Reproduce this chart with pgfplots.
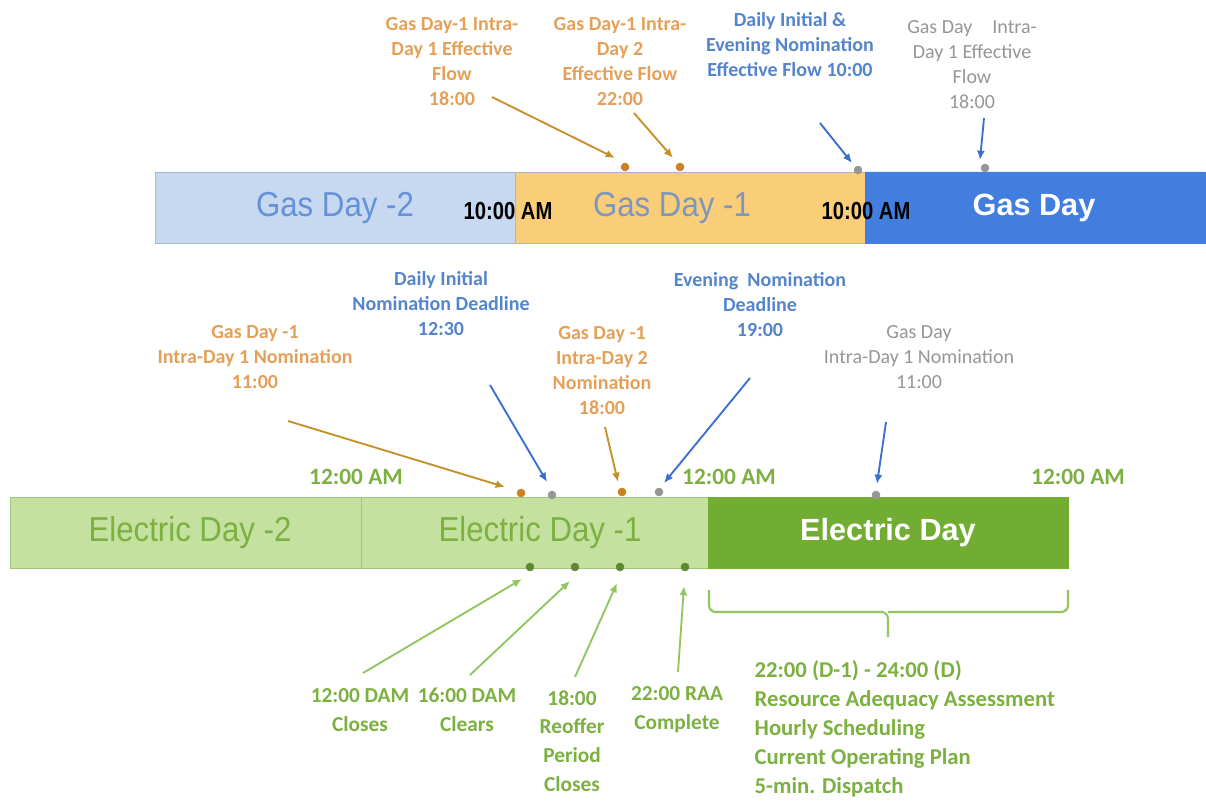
\documentclass[border=0pt]{standalone}
\usepackage{pgfplots}
\pgfplotsset{compat=1.18}
\usepackage{fontspec}
\setmainfont{Carlito}
\newfontfamily\arial{Liberation Sans}
\usetikzlibrary{arrows.meta}
\definecolor{lblue}{RGB}{198,217,241}
\definecolor{lblueb}{RGB}{170,182,200}
\definecolor{gorange}{RGB}{250,205,120}
\definecolor{gblue}{RGB}{66,126,222}
\definecolor{lgreen}{RGB}{197,225,160}
\definecolor{lgreenb}{RGB}{160,200,120}
\definecolor{dgreen}{RGB}{112,173,50}
\definecolor{torange}{RGB}{228,160,88}
\definecolor{tblue}{RGB}{84,132,204}
\definecolor{tgray}{RGB}{150,150,150}
\definecolor{tgreen}{RGB}{124,176,64}
\definecolor{aorange}{RGB}{196,145,40}
\definecolor{ablue}{RGB}{60,110,210}
\definecolor{agreen}{RGB}{145,198,95}
\definecolor{dorange}{RGB}{205,130,30}
\definecolor{dgray}{RGB}{150,150,150}
\definecolor{dgreendot}{RGB}{95,135,55}
\definecolor{gd1text}{RGB}{125,150,190}
\definecolor{gd2text}{RGB}{100,145,215}
\begin{document}
\begin{tikzpicture}[
  lbl/.style={align=center, font=\bfseries\fontsize{15}{18.75}\selectfont},
  arr/.style={line width=1.4pt, -{Latex[length=7pt,width=6pt]}},
]
\begin{axis}[
  scale only axis, width=904.5pt, height=600pt,
  xmin=0, xmax=1206, ymin=0, ymax=800, y dir=reverse,
  hide axis, clip=false,
]
% invisible frame so the picture spans the whole canvas
\addplot[draw=none, forget plot] coordinates {(0,0) (1206,0) (1206,800) (0,800)};
% ---- gas bar ----
\addplot[fill=lblue, draw=lblueb, line width=0.6pt] coordinates {(155,172) (515,172) (515,243) (155,243) (155,172)};
\addplot[fill=gorange, draw=lblueb, line width=0.6pt] coordinates {(515,172) (865,172) (865,243) (515,243) (515,172)};
\addplot[fill=gblue, draw=gblue, line width=0.6pt] coordinates {(865,172) (1205,172) (1205,243) (865,243) (865,172)};
% ---- electric bar ----
\addplot[fill=lgreen, draw=lgreenb, line width=0.6pt] coordinates {(10,497) (361,497) (361,568) (10,568) (10,497)};
\addplot[fill=lgreen, draw=lgreenb, line width=0.6pt] coordinates {(361,497) (708,497) (708,568) (361,568) (361,497)};
\addplot[fill=dgreen, draw=dgreen, line width=0.6pt] coordinates {(708,497) (1068,497) (1068,568) (708,568) (708,497)};

% ---- bar labels ----
\node[font=\arial\fontsize{26}{30}\selectfont, text=gd2text, xscale=0.9] at (axis cs:335,208) {Gas Day -2};
\node[font=\arial\fontsize{26}{30}\selectfont, text=gd1text, xscale=0.9] at (axis cs:672,208) {Gas Day -1};
\node[font=\arial\bfseries\fontsize{23}{28}\selectfont, text=white] at (axis cs:1034,208) {Gas Day};
\node[font=\arial\bfseries\fontsize{18.5}{20}\selectfont, text=black, xscale=0.82] at (axis cs:508,211) {10:00 AM};
\node[font=\arial\bfseries\fontsize{18.5}{20}\selectfont, text=black, xscale=0.82] at (axis cs:866,211) {10:00 AM};
\node[font=\arial\fontsize{26}{30}\selectfont, text=tgreen, xscale=0.9] at (axis cs:190,533) {Electric Day -2};
\node[font=\arial\fontsize{26}{30}\selectfont, text=tgreen, xscale=0.9] at (axis cs:540,533) {Electric Day -1};
\node[font=\arial\bfseries\fontsize{23}{28}\selectfont, text=white] at (axis cs:888,533) {Electric Day};
\node[font=\bfseries\fontsize{17.5}{20}\selectfont, text=tgreen] at (axis cs:356,477) {12:00 AM};
\node[font=\bfseries\fontsize{17.5}{20}\selectfont, text=tgreen] at (axis cs:729,477) {12:00 AM};
\node[font=\bfseries\fontsize{17.5}{20}\selectfont, text=tgreen] at (axis cs:1078,477) {12:00 AM};

% ---- arrows ----
\addplot[arr, aorange] coordinates {(492,97) (615,158)};
\addplot[arr, aorange] coordinates {(634,113) (673,158)};
\addplot[arr, aorange] coordinates {(288,421) (505,487)};
\addplot[arr, aorange] coordinates {(605,427) (618,482)};
\addplot[arr, ablue] coordinates {(820,123) (852,163)};
\addplot[arr, ablue] coordinates {(984,118) (980,160)};
\addplot[arr, ablue] coordinates {(490,385) (547,482)};
\addplot[arr, ablue] coordinates {(750,378) (664,483)};
\addplot[arr, ablue] coordinates {(886,422) (877,484)};
\addplot[arr, agreen] coordinates {(363,673) (522,579)};
\addplot[arr, agreen] coordinates {(470,675) (570,581)};
\addplot[arr, agreen] coordinates {(575,677) (617,583)};
\addplot[arr, agreen] coordinates {(678,672) (684,586)};

% ---- dots ----
\addplot[only marks, mark=*, mark size=3pt, color=dorange] coordinates {(625,167) (680,167) (521,493) (622,492)};
\addplot[only marks, mark=*, mark size=3pt, color=dgray] coordinates {(858,170) (985,168) (552,495) (659,492) (876,495)};
\addplot[only marks, mark=*, mark size=3pt, color=dgreendot] coordinates {(530,567) (575,567) (620,567) (685,567)};

% ---- brace ----
\addplot[agreen, line width=1.6pt, rounded corners=5pt] coordinates {(709,590) (709,612) (888,612) (888,637)};
\addplot[agreen, line width=1.6pt, rounded corners=5pt] coordinates {(888,612) (1068,612) (1068,590)};

% ---- labels ----
\node[lbl, text=torange] at (axis cs:452,62) {Gas Day-1 Intra-\\Day 1 Effective\\Flow\\18:00};
\node[lbl, text=torange] at (axis cs:620,62) {Gas Day-1 Intra-\\Day 2\\Effective Flow\\22:00};
\node[lbl, text=tblue] at (axis cs:790,45) {Daily Initial \&\\Evening Nomination\\Effective Flow 10:00};
\node[lbl, text=tgray, font=\fontsize{15}{18.75}\selectfont] at (axis cs:972,65) {Gas Day\quad Intra-\\Day 1 Effective\\Flow\\18:00};
\node[lbl, text=tblue] at (axis cs:441,304) {Daily Initial\\Nomination Deadline\\12:30};
\node[lbl, text=torange] at (axis cs:255,357) {Gas Day -1\\Intra-Day 1 Nomination\\11:00};
\node[lbl, text=torange] at (axis cs:602,371) {Gas Day -1\\Intra-Day 2\\Nomination\\18:00};
\node[lbl, text=tblue] at (axis cs:760,305) {Evening\ \ Nomination\\Deadline\\19:00};
\node[lbl, text=tgray, font=\fontsize{15}{18.75}\selectfont] at (axis cs:919,357) {Gas Day\\Intra-Day 1 Nomination\\11:00};

\node[align=center, font=\bfseries\fontsize{16}{21.5}\selectfont, text=tgreen] at (axis cs:360,710) {12:00 DAM\\Closes};
\node[align=center, font=\bfseries\fontsize{16}{21.5}\selectfont, text=tgreen] at (axis cs:467,710) {16:00 DAM\\Clears};
\node[align=center, font=\bfseries\fontsize{16}{21.5}\selectfont, text=tgreen] at (axis cs:572,741) {18:00\\Reoffer\\Period\\Closes};
\node[align=center, font=\bfseries\fontsize{16}{21.5}\selectfont, text=tgreen] at (axis cs:677,710) {22:00 RAA\\Complete};
\node[align=left, anchor=west, font=\bfseries\fontsize{17}{21.75}\selectfont, text=tgreen] at (axis cs:750,729) {22:00 (D-1) - 24:00 (D)\\Resource Adequacy Assessment\\Hourly Scheduling\\Current Operating Plan\\5-min. Dispatch};
\end{axis}
\end{tikzpicture}
\end{document}
